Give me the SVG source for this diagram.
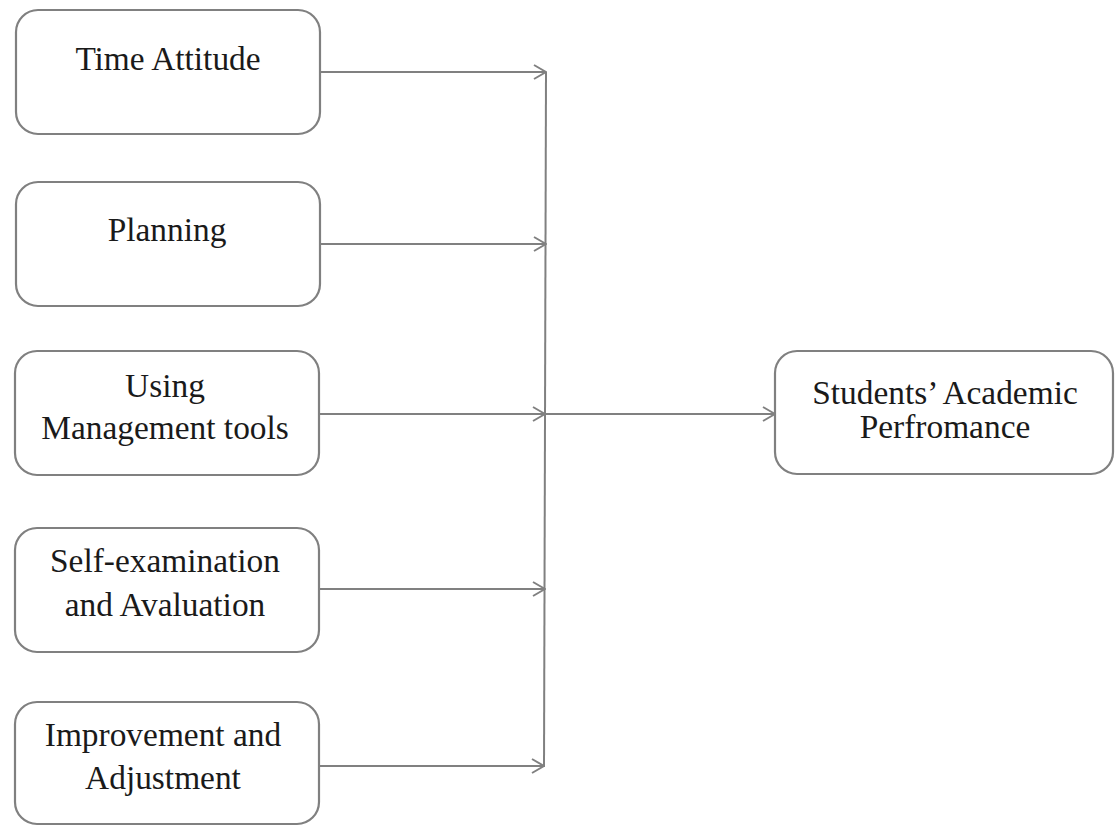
<svg xmlns="http://www.w3.org/2000/svg" width="1116" height="826" viewBox="0 0 1116 826">
<style>
.box{fill:#fff;stroke:#808080;stroke-width:2.2}
.lbl{font-family:"Liberation Serif","Times New Roman",serif;font-size:33.4px;fill:#1a1a1a;text-anchor:middle}
.con{fill:none;stroke:#808080;stroke-width:2}
</style>
<defs>
<marker id="arr" viewBox="0 0 14 16" refX="13" refY="8" markerWidth="14" markerHeight="16" markerUnits="userSpaceOnUse" orient="auto">
<path d="M1,1 L13,8 L1,15" fill="none" stroke="#808080" stroke-width="2"/>
</marker>
</defs>
<rect width="1116" height="826" fill="#fff"/>
<g id="n1"><rect class="box" x="16" y="10" width="304" height="124" rx="22"/><text class="lbl" x="168" y="70">Time Attitude</text></g>
<g id="n2"><rect class="box" x="16" y="182" width="304" height="124" rx="22"/><text class="lbl" x="167" y="241">Planning</text></g>
<g id="n3"><rect class="box" x="15" y="351" width="304" height="124" rx="22"/><text class="lbl" x="165" y="397">Using</text><text class="lbl" x="165" y="439">Management tools</text></g>
<g id="n4"><rect class="box" x="15" y="528" width="304" height="124" rx="22"/><text class="lbl" x="165" y="572">Self-examination</text><text class="lbl" x="165" y="616">and Avaluation</text></g>
<g id="n5"><rect class="box" x="15" y="702" width="304" height="122" rx="22"/><text class="lbl" x="163" y="746">Improvement and</text><text class="lbl" x="163" y="789">Adjustment</text></g>
<g id="n6"><rect class="box" x="775" y="351" width="338" height="123" rx="22"/><text class="lbl" x="945" y="404">Students’ Academic</text><text class="lbl" x="945" y="438">Perfromance</text></g>
<g id="connectors">
<line class="con" x1="546" y1="72" x2="544" y2="767"/>
<line class="con" x1="320" y1="72" x2="546" y2="72" marker-end="url(#arr)"/>
<line class="con" x1="320" y1="244" x2="546" y2="244" marker-end="url(#arr)"/>
<line class="con" x1="319" y1="414" x2="545" y2="414" marker-end="url(#arr)"/>
<line class="con" x1="319" y1="589" x2="545" y2="589" marker-end="url(#arr)"/>
<line class="con" x1="319" y1="766" x2="544" y2="766" marker-end="url(#arr)"/>
<line class="con" x1="545" y1="414" x2="775" y2="414" marker-end="url(#arr)"/>
</g>
</svg>
